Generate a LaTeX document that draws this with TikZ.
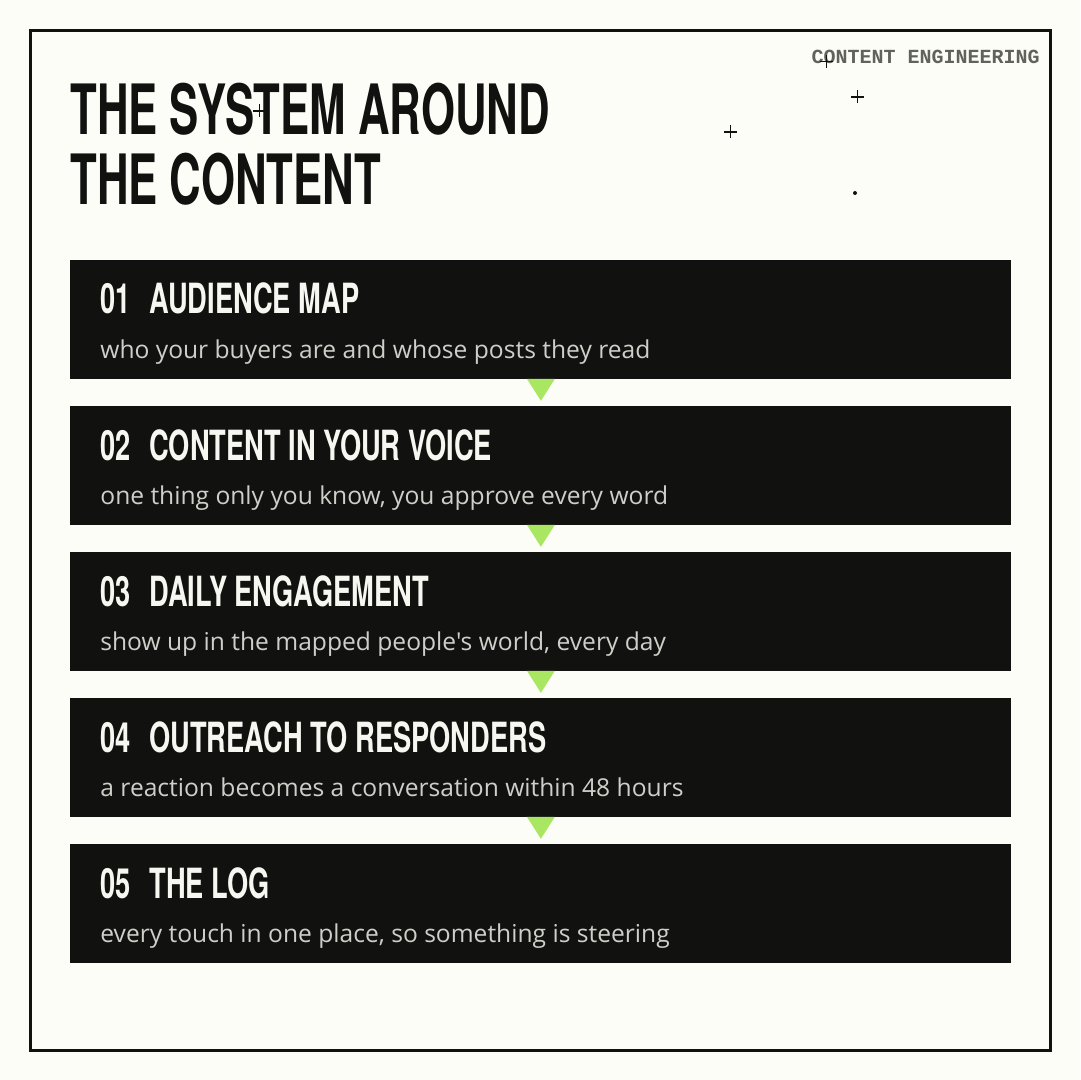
\documentclass[tikz,border=0pt]{standalone}
\usepackage{fontspec}
\setmainfont{Open Sans}
\newfontfamily\descfont{Open Sans}
\newfontfamily\condfont[FakeStretch=0.63]{TeX Gyre Heros}
\newfontfamily\headfont[FakeStretch=0.655]{TeX Gyre Heros}
\newfontfamily\labelmono{Liberation Mono}
\usetikzlibrary{calc}
\definecolor{bg}{HTML}{FDFDF8}
\definecolor{ink}{HTML}{111110}
\definecolor{subtxt}{HTML}{CFCFCA}
\definecolor{headtxt}{HTML}{F7F7F2}
\definecolor{lime}{HTML}{A9E662}
\definecolor{labelgray}{HTML}{62625C}
\begin{document}
\begin{tikzpicture}[x=0.5pt,y=-0.5pt,
  stepbox/.style={fill=ink, draw=none, minimum width=470.5pt, minimum height=59.5pt, inner sep=0, anchor=north west},
  titletxt/.style={anchor=base west, inner sep=0, text=ink, font=\condfont\bfseries\fontsize{34.7}{40}\selectfont},
  headtxt/.style={anchor=base west, inner sep=0, text=headtxt, font=\headfont\bfseries\fontsize{20.8}{24}\selectfont},
  desctxt/.style={anchor=base west, inner sep=0, text=subtxt, font=\descfont\fontsize{12.3}{14}\selectfont},
  tri/.style={fill=lime},
  plusmark/.style={draw=ink, line width=0.75pt}]
\fill[bg] (0,0) rectangle (1080,1080);
\useasboundingbox (0,0) rectangle (1080,1080);
\draw[ink, line width=1.5pt] (30.5,30.5) rectangle (1050.5,1050.5);
% title
\node[titletxt] (t1) at (70,135) {THE SYSTEM AROUND};
\node[titletxt] (t2) at (70,205) {THE CONTENT};
% corner label
\node[anchor=base east, inner sep=0, font=\labelmono\bfseries\fontsize{10}{12}\selectfont, text=labelgray] (lbl) at (1040,64) {CONTENT ENGINEERING};
% boxes
\node[stepbox] (b1) at (70,260) {};
\node[stepbox] (b2) at (70,406) {};
\node[stepbox] (b3) at (70,552) {};
\node[stepbox] (b4) at (70,698) {};
\node[stepbox] (b5) at (70,844) {};
\node[headtxt] (h1) at ($(b1.north west)+(30,54)$) {01\hspace{0.45em}AUDIENCE MAP};
\node[desctxt] (d1) at ($(b1.north west)+(30,98)$) {who your buyers are and whose posts they read};
\node[headtxt] (h2) at ($(b2.north west)+(30,54)$) {02\hspace{0.45em}CONTENT IN YOUR VOICE};
\node[desctxt] (d2) at ($(b2.north west)+(30,98)$) {one thing only you know, you approve every word};
\node[headtxt] (h3) at ($(b3.north west)+(30,54)$) {03\hspace{0.45em}DAILY ENGAGEMENT};
\node[desctxt] (d3) at ($(b3.north west)+(30,98)$) {show up in the mapped people's world, every day};
\node[headtxt] (h4) at ($(b4.north west)+(30,54)$) {04\hspace{0.45em}OUTREACH TO RESPONDERS};
\node[desctxt] (d4) at ($(b4.north west)+(30,98)$) {a reaction becomes a conversation within 48 hours};
\node[headtxt] (h5) at ($(b5.north west)+(30,54)$) {05\hspace{0.45em}THE LOG};
\node[desctxt] (d5) at ($(b5.north west)+(30,98)$) {every touch in one place, so something is steering};
% triangles between boxes
\foreach \a in {b1,b2,b3,b4}{
  \fill[tri] ($(\a.south)+(-14,-1)$) -- ($(\a.south)+(14,-1)$) -- ($(\a.south)+(0,21)$) -- cycle;
}
% plus marks and dot
\foreach \x/\y in {826.5/61.5, 857.5/97, 730.5/132, 259.5/111}{
  \draw[plusmark] (\x-6.5,\y) -- (\x+6.5,\y) (\x,\y-6.5) -- (\x,\y+6.5);
}
\fill[ink] (855,193) circle (2);
\end{tikzpicture}
\end{document}
